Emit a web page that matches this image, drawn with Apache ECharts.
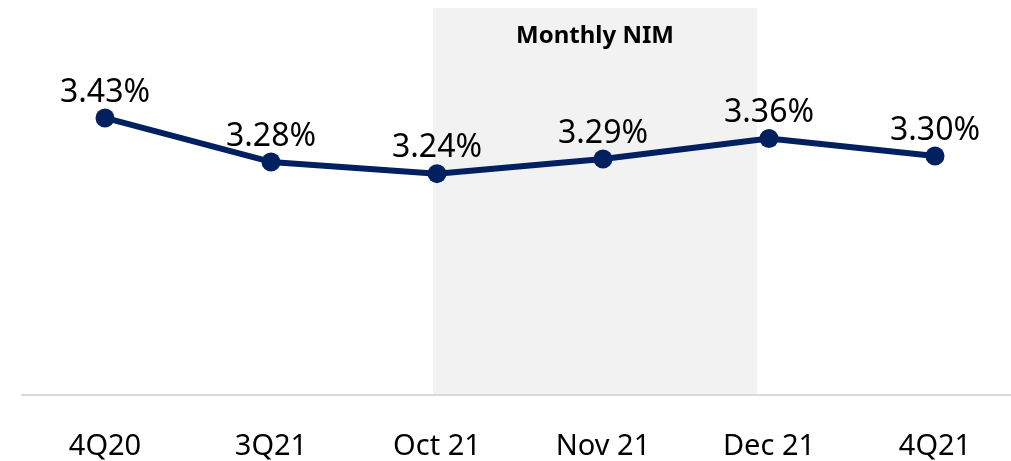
<!DOCTYPE html>
<html>
<head>
<meta charset="utf-8">
<script src="https://cdn.jsdelivr.net/npm/echarts@6/dist/echarts.min.js"></script>
<style>
  html, body { margin: 0; padding: 0; background: #fff; overflow: hidden; }
  #chart { width: 1020px; height: 461px; }
</style>
</head>
<body>
<div id="chart"></div>
<script>
const categories = ['4Q20', '3Q21', 'Oct 21', 'Nov 21', 'Dec 21', '4Q21'];
const nimValues = [3.43, 3.28, 3.24, 3.29, 3.36, 3.30];
const shadeLabel = 'Monthly NIM';
// shaded block spans roughly Oct 21 .. just before Dec 21 (category units)
const shadeFrom = 1.976;
const shadeTo = 3.928;

const font = '"Noto Sans", "Open Sans", sans-serif';
const myChart = echarts.init(document.getElementById('chart'));

const option = {
    animation: false,
    grid: {
        left: 22,
        top: 8,
        width: 996,
        height: 387
    },
    xAxis: [
        {
            type: 'category',
            data: categories,
            boundaryGap: true,
            axisLine: {
                show: true,
                lineStyle: { color: '#d9d9d9', width: 2 }
            },
            axisTick: { show: false },
            axisLabel: {
                color: '#000',
                fontSize: 29,
                fontFamily: font,
                margin: 37
            },
            z: 5
        },
        {
            type: 'value',
            min: -0.5,
            max: 5.5,
            show: false
        }
    ],
    yAxis: {
        type: 'value',
        min: 2.485,
        max: 3.805,
        show: false,
        splitLine: { show: false }
    },
    series: [
        {
            name: 'shade',
            type: 'line',
            xAxisIndex: 1,
            data: [],
            clip: false,
            silent: true,
            markArea: {
                silent: true,
                itemStyle: { color: '#f2f2f2', borderRadius: 3 },
                label: {
                    show: true,
                    position: 'insideTop',
                    distance: 16,
                    color: '#000',
                    fontSize: 24,
                    fontWeight: 'bold',
                    fontFamily: font
                },
                data: [[
                    { name: shadeLabel, xAxis: shadeFrom, yAxis: 3.805 },
                    { xAxis: shadeTo, yAxis: 2.46 }
                ]]
            },
            z: 1
        },
        {
            name: 'NIM',
            type: 'line',
            data: nimValues,
            symbol: 'circle',
            symbolSize: 19,
            lineStyle: { color: '#002060', width: 6 },
            itemStyle: { color: '#002060' },
            label: {
                show: true,
                position: 'top',
                distance: 0,
                color: '#000',
                fontSize: 32,
                fontFamily: font,
                formatter: function (p) {
                    return p.value.toFixed(2) + '%';
                }
            },
            z: 10
        }
    ]
};

myChart.setOption(option);
</script>
</body>
</html>
